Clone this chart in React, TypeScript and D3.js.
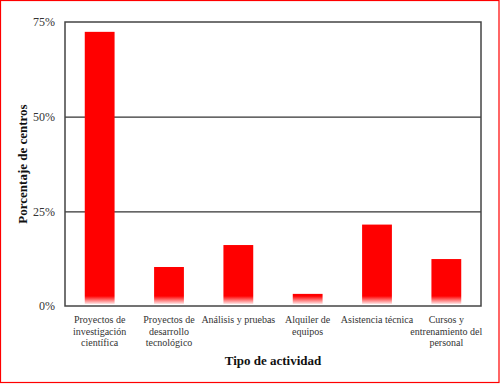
import React, { useEffect, useRef } from 'react';
import * as d3 from 'd3';

const categories: string[][] = [
  ['Proyectos de', 'investigación', 'científica'],
  ['Proyectos de', 'desarrollo', 'tecnológico'],
  ['Análisis y pruebas'],
  ['Alquiler de', 'equipos'],
  ['Asistencia técnica'],
  ['Cursos y', 'entrenamiento del', 'personal'],
];
const values = [72.4, 10.3, 16.1, 3.2, 21.5, 12.4];
const yTicks = [0, 25, 50, 75];

const App: React.FC = () => {
  const svgRef = useRef<SVGSVGElement>(null);

  useEffect(() => {
    if (!svgRef.current) return;
    d3.select(svgRef.current).selectAll('*').remove();

    const width = 500;
    const height = 384;
    const margin = { top: 22, right: 19, bottom: 78, left: 65 };
    const innerWidth = width - margin.left - margin.right;
    const innerHeight = height - margin.top - margin.bottom;
    const font = 'Liberation Serif, Times New Roman, DejaVu Serif, serif';

    const svg = d3.select(svgRef.current)
      .attr('width', width)
      .attr('height', height)
      .style('display', 'block')
      .style('background', '#ffffff')
      .style('font-family', font);

    // outer red frame
    svg.append('rect')
      .attr('x', 0.5).attr('y', 0.5)
      .attr('width', width - 1.5).attr('height', height - 2)
      .attr('fill', 'none')
      .attr('stroke', '#ff0000')
      .attr('stroke-width', 1.2);

    const g = svg.append('g')
      .attr('transform', `translate(${margin.left},${margin.top})`);

    const x = d3.scaleBand<number>()
      .domain(d3.range(categories.length))
      .range([0, innerWidth])
      .paddingInner(0.57)
      .paddingOuter(0.285);

    const y = d3.scaleLinear()
      .domain([0, 75])
      .range([innerHeight, 0]);

    // gradient fading the bar foot to white
    const defs = svg.append('defs');
    const grad = defs.append('linearGradient')
      .attr('id', 'barFoot')
      .attr('gradientUnits', 'userSpaceOnUse')
      .attr('x1', 0).attr('x2', 0)
      .attr('y1', innerHeight - 10).attr('y2', innerHeight - 2);
    grad.append('stop').attr('offset', 0).attr('stop-color', '#ff0000');
    grad.append('stop').attr('offset', 1).attr('stop-color', '#ffe6e6');

    // grid lines
    g.append('g')
      .call(d3.axisLeft(y).tickValues(yTicks.filter(t => t > 0 && t < 75)).tickSize(-innerWidth).tickFormat(() => ''))
      .call(s => s.select('.domain').remove())
      .call(s => s.selectAll('.tick line')
        .attr('stroke', '#333333')
        .attr('stroke-width', 1.2));

    // bars
    g.selectAll('rect.bar')
      .data(values)
      .enter()
      .append('rect')
      .attr('class', 'bar')
      .attr('x', (_, i) => x(i) as number)
      .attr('width', x.bandwidth())
      .attr('y', d => y(d))
      .attr('height', d => innerHeight - 2 - y(d))
      .attr('fill', 'url(#barFoot)');

    // plot frame
    g.append('rect')
      .attr('x', 0).attr('y', 0)
      .attr('width', innerWidth).attr('height', innerHeight)
      .attr('fill', 'none')
      .attr('stroke', '#444444')
      .attr('stroke-width', 1.5);

    // y axis labels
    g.append('g')
      .call(d3.axisLeft(y).tickValues(yTicks).tickSize(0).tickPadding(10).tickFormat(d => `${d}%`))
      .call(s => s.select('.domain').remove())
      .attr('font-family', null)
      .call(s => s.selectAll('text')
        .style('font-family', font)
        .attr('font-size', '12px')
        .attr('fill', '#333333'));

    // x category labels
    const xl = g.append('g').attr('transform', `translate(0,${innerHeight})`);
    categories.forEach((lines, i) => {
      const t = xl.append('text')
        .attr('x', (x(i) as number) + x.bandwidth() / 2)
        .attr('y', 17)
        .attr('text-anchor', 'middle')
        .style('font-family', font)
        .attr('font-size', '10px')
        .attr('fill', '#333333');
      lines.forEach((ln, j) => {
        t.append('tspan')
          .attr('x', (x(i) as number) + x.bandwidth() / 2)
          .attr('dy', j === 0 ? 0 : 11.5)
          .text(ln);
      });
    });

    // axis titles
    svg.append('text')
      .attr('x', margin.left + innerWidth / 2)
      .attr('y', 365)
      .attr('text-anchor', 'middle')
      .style('font-family', font)
      .attr('font-size', '13px')
      .attr('font-weight', 'bold')
      .attr('fill', '#111111')
      .text('Tipo de actividad');

    svg.append('text')
      .attr('transform', `translate(27,${margin.top + innerHeight / 2}) rotate(-90)`)
      .attr('text-anchor', 'middle')
      .style('font-family', font)
      .attr('font-size', '13px')
      .attr('font-weight', 'bold')
      .attr('fill', '#111111')
      .text('Porcentaje de centros');
  }, []);

  return (
    <div>
      <style>{'body{margin:0}'}</style>
      <svg ref={svgRef}></svg>
    </div>
  );
};

export default App;
